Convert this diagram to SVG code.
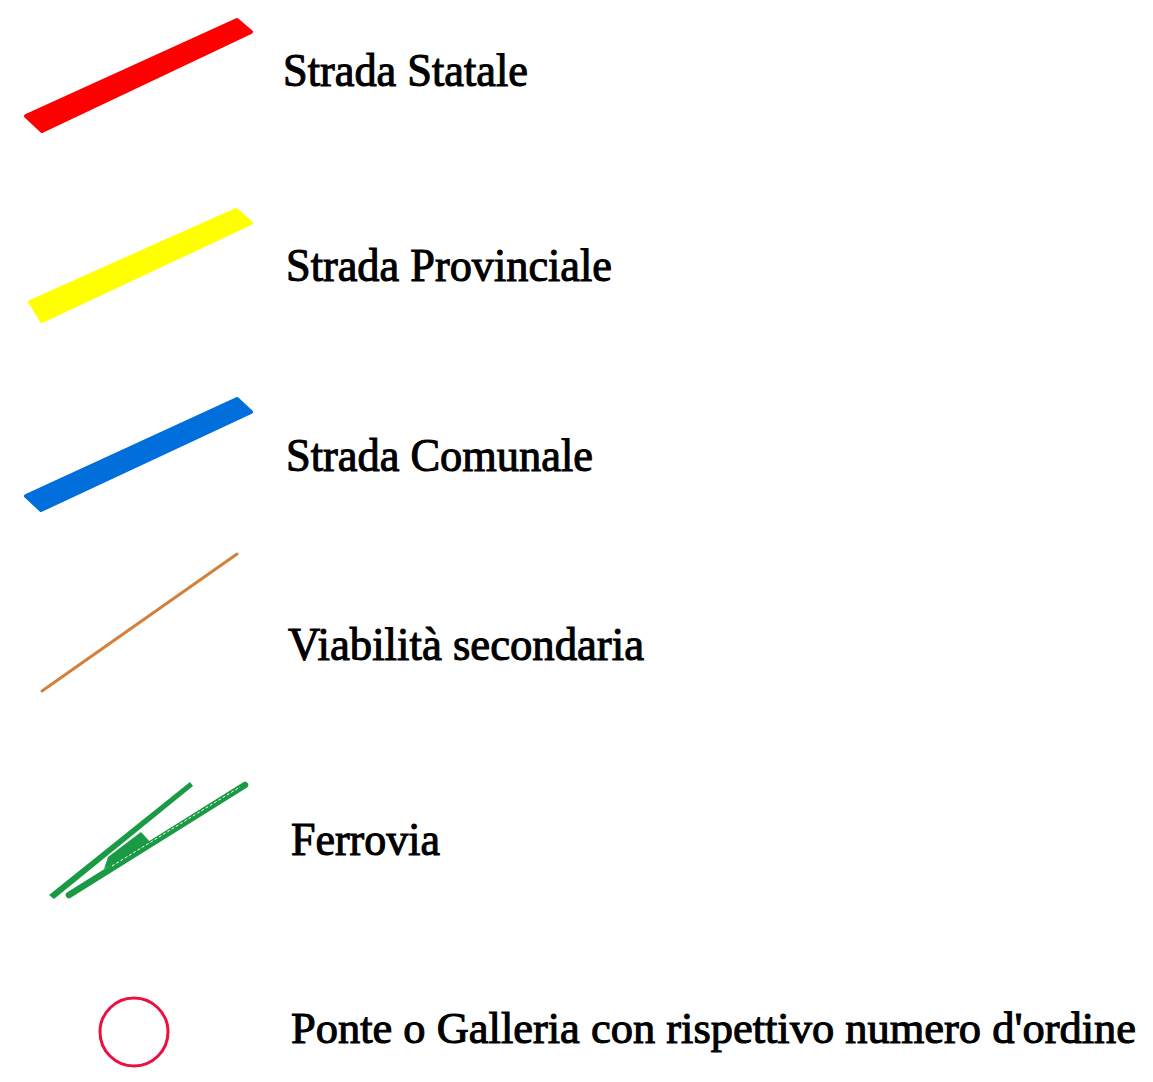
<svg xmlns="http://www.w3.org/2000/svg" width="1153" height="1082" viewBox="0 0 1153 1082">
<style>
.lbl{font-family:"Liberation Serif","Times New Roman",serif;font-size:47px;fill:#000;stroke:#000;stroke-width:1.1}
.band{stroke-width:4;stroke-linejoin:round}
</style>
<rect width="1153" height="1082" fill="#fff"/>
<g id="statale">
<polygon class="band" points="26,116 237,20 251,32 42,131" fill="#ff0000" stroke="#ff0000"/>
<text class="lbl" x="283" y="86" textLength="245" lengthAdjust="spacingAndGlyphs">Strada Statale</text>
</g>
<g id="provinciale">
<polygon class="band" points="30,302 236,210 251,223 42,321" fill="#ffff00" stroke="#ffff00"/>
<text class="lbl" x="286" y="281" textLength="326" lengthAdjust="spacingAndGlyphs">Strada Provinciale</text>
</g>
<g id="comunale">
<polygon class="band" points="26,496 237,399 251,412 41,510" fill="#006fdc" stroke="#006fdc"/>
<text class="lbl" x="286" y="471" textLength="307" lengthAdjust="spacingAndGlyphs">Strada Comunale</text>
</g>
<g id="secondaria">
<line x1="42" y1="691" x2="237" y2="554" stroke="#d4803a" stroke-width="3" stroke-linecap="round"/>
<text class="lbl" x="288" y="660" textLength="356" lengthAdjust="spacingAndGlyphs">Viabilità secondaria</text>
</g>
<g id="ferrovia">
<polygon points="49,895 190,782 193,786 54,899" fill="#1a9a44"/>
<line x1="69" y1="895" x2="245" y2="785" stroke="#1a9a44" stroke-width="6.5" stroke-linecap="round"/>
<polygon points="104,869 108,857 141,832 152,844" fill="#1a9a44"/>
<line x1="112" y1="866" x2="240" y2="787" stroke="#fff" stroke-width="1" stroke-dasharray="3 2"/>
<text class="lbl" x="291" y="855" textLength="149" lengthAdjust="spacingAndGlyphs">Ferrovia</text>
</g>
<g id="ponte">
<circle cx="134" cy="1032" r="34" fill="none" stroke="#ec1040" stroke-width="3"/>
<text class="lbl" x="291" y="1043" style="font-size:45px" textLength="845" lengthAdjust="spacingAndGlyphs">Ponte o Galleria con rispettivo numero d'ordine</text>
</g>
<g id="connectors"/>
</svg>
